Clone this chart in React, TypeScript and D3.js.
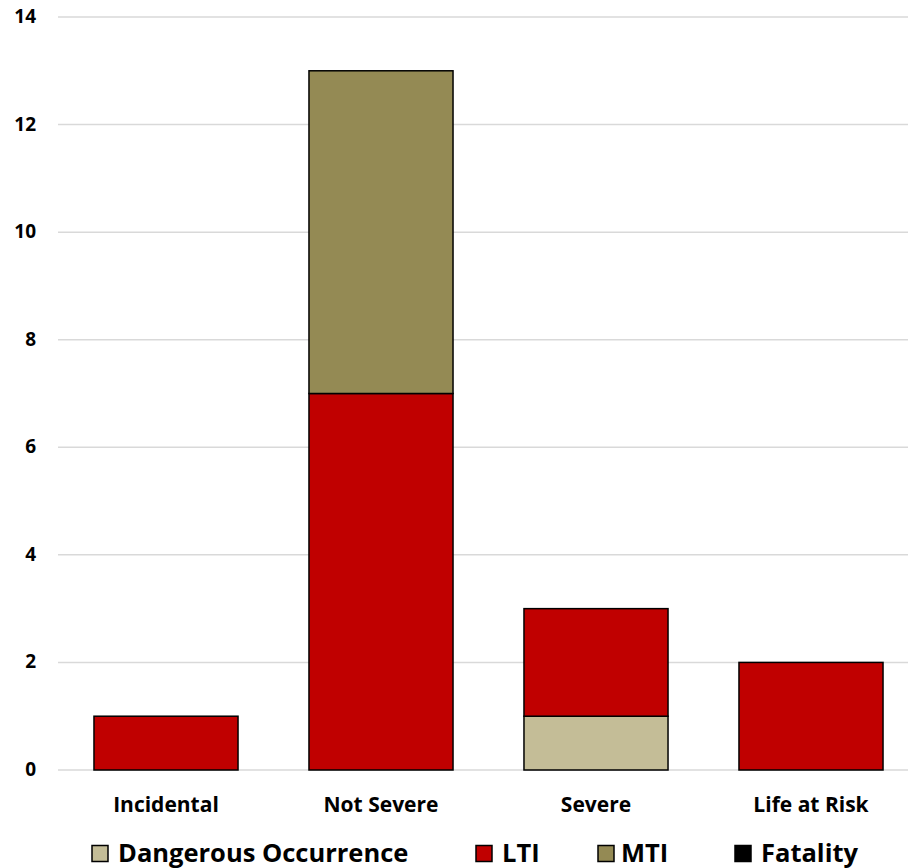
import React from "react";
import * as d3 from "d3";

const categories = ["Incidental", "Not Severe", "Severe", "Life at Risk"];
const seriesNames = ["Dangerous Occurrence", "LTI", "MTI", "Fatality"];
const dangerousOccurrence = [0, 0, 1, 0];
const lti = [1, 7, 2, 2];
const mti = [0, 6, 0, 0];
const fatality = [0, 0, 0, 0];
const seriesColors = ["#c4bd97", "#c00000", "#948a54", "#000000"];
const yTicks = [0, 2, 4, 6, 8, 10, 12, 14];

const W = 908;
const H = 868;
const FONT = "'Open Sans', Lato, sans-serif";

export default function App() {
  const rows = categories.map((c, i) => ({
    category: c,
    "Dangerous Occurrence": dangerousOccurrence[i],
    LTI: lti[i],
    MTI: mti[i],
    Fatality: fatality[i],
  }));
  const stacked = d3.stack<any>().keys(seriesNames)(rows);

  const x = d3.scaleBand().domain(categories).range([58.5, 918.5]).paddingInner(0.33).paddingOuter(0.165);
  const y = d3.scaleLinear().domain([0, 14]).range([770, 17]);

  const legendItems = [
    { name: seriesNames[0], sx: 92, tx: 118 },
    { name: seriesNames[1], sx: 476, tx: 502 },
    { name: seriesNames[2], sx: 598, tx: 621 },
    { name: seriesNames[3], sx: 735, tx: 761 },
  ];

  return (
    <svg width={W} height={H} style={{ position: "absolute", left: 0, top: 0 }}>
      <rect width={W} height={H} fill="#fff" />
      {yTicks.map((t) => (
        <g key={t}>
          <line x1={58} x2={W} y1={y(t)} y2={y(t)} stroke="#d9d9d9" strokeWidth={1.5} />
          <text x={36} y={y(t) + 6} textAnchor="end" fontFamily={FONT} fontWeight="bold" fontSize={19} fill="#000">
            {t}
          </text>
        </g>
      ))}
      {stacked.map((s, si) =>
        s.map((d, i) =>
          d[1] - d[0] > 0 ? (
            <rect
              key={`${si}-${i}`}
              x={x(categories[i])!}
              width={x.bandwidth()}
              y={y(d[1])}
              height={y(d[0]) - y(d[1])}
              fill={seriesColors[si]}
              stroke="#000"
              strokeWidth={1.5}
            />
          ) : null
        )
      )}
      {categories.map((c) => (
        <text key={c} x={x(c)! + x.bandwidth() / 2} y={812} textAnchor="middle" fontFamily={FONT} fontWeight="bold" fontSize={21} fill="#000">
          {c}
        </text>
      ))}
      {legendItems.map((l, i) => (
        <g key={l.name}>
          <rect x={l.sx} y={845.5} width={16} height={16} fill={seriesColors[i]} stroke="#000" strokeWidth={1.5} />
          <text x={l.tx} y={862} fontFamily={FONT} fontWeight="bold" fontSize={25.5} fill="#000">
            {l.name}
          </text>
        </g>
      ))}
    </svg>
  );
}
